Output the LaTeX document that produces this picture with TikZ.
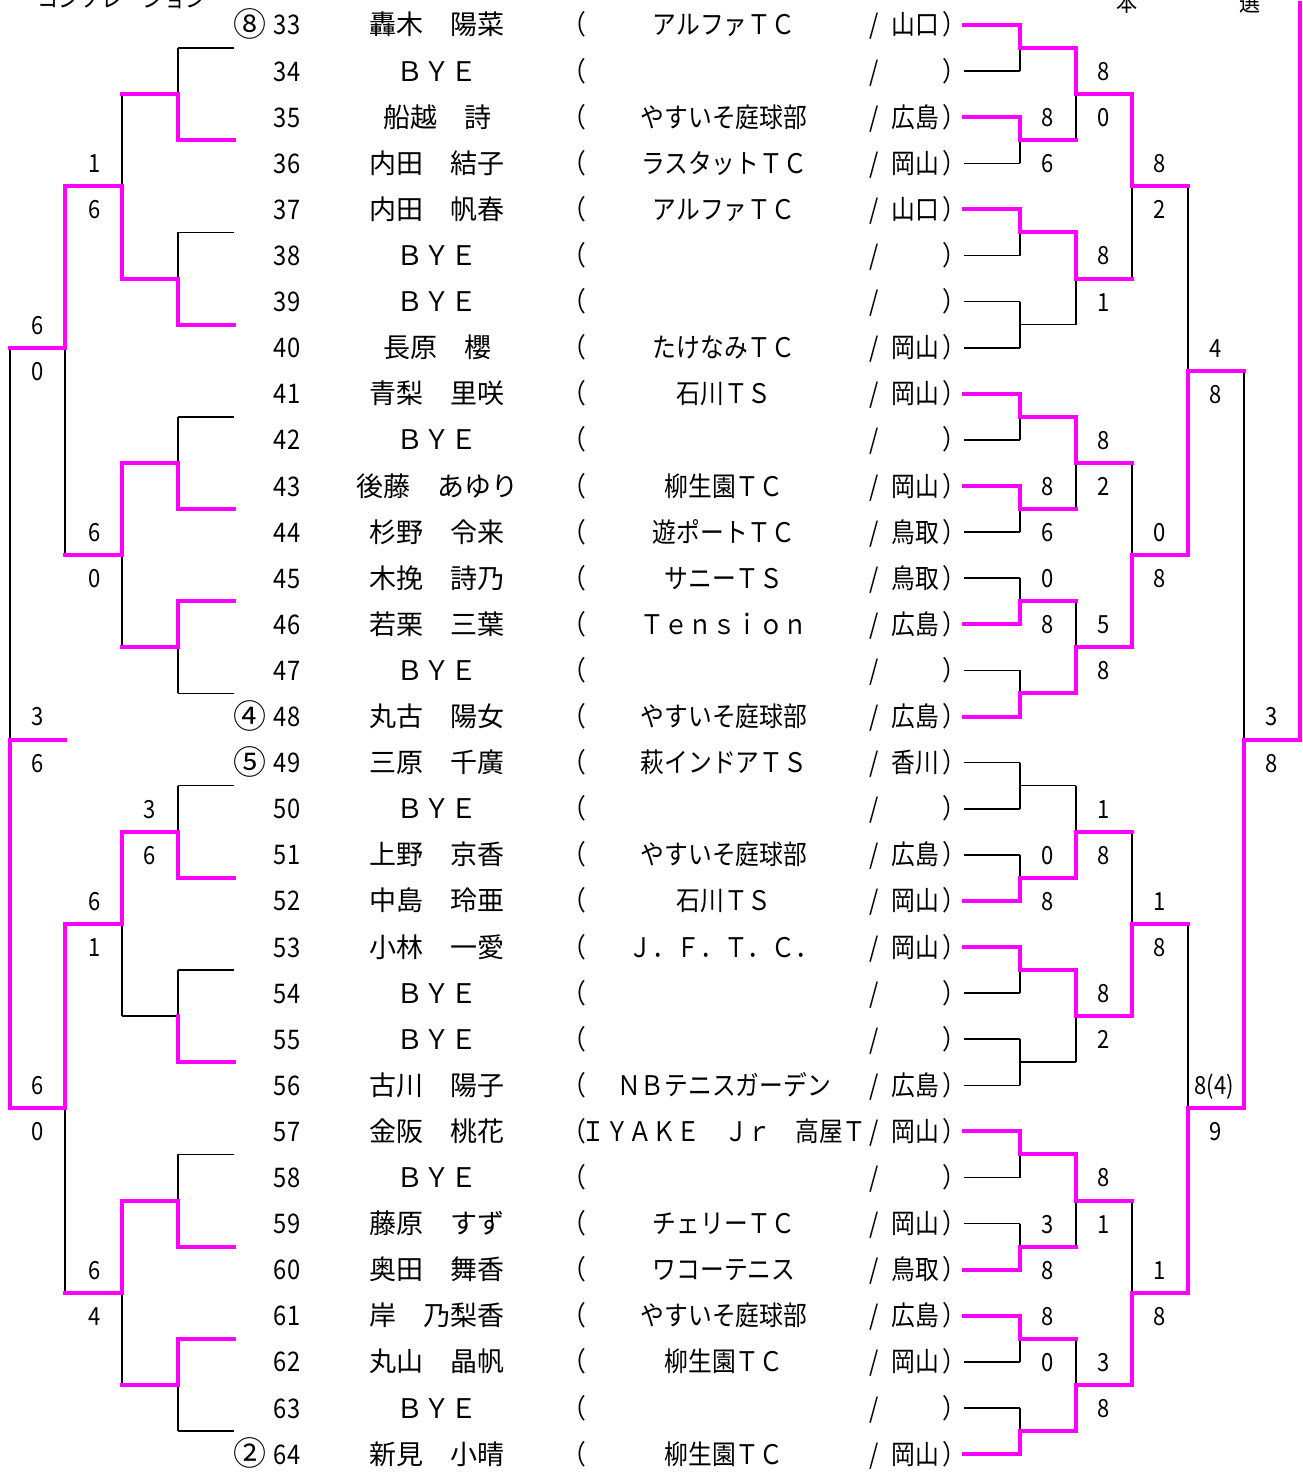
\documentclass[tikz,border=0pt]{standalone}
\usepackage{fontspec}
\newfontfamily\jp[FakeStretch=0.88]{Noto Sans CJK JP}
\newfontfamily\jpw{Noto Sans CJK JP}
\definecolor{mag}{RGB}{255,0,255}
\pgfdeclarelayer{fg}
\pgfsetlayers{main,fg}
\newcommand\bmatch[6]{% xv, xout, ytop, ybot, ymid, winner
  \ifcase#6
    \draw[bk] (#1,#3) -- (#1,#4); \draw[bk] (#1,#5) -- (#2,#5);
  \or
    \draw[bk] (#1,#5) -- (#1,#4);
    \begin{pgfonlayer}{fg}\draw[mg] (#1,#3) -- (#1,#5) -- (#2,#5);\end{pgfonlayer}
  \or
    \draw[bk] (#1,#3) -- (#1,#5);
    \begin{pgfonlayer}{fg}\draw[mg] (#1,#4) -- (#1,#5) -- (#2,#5);\end{pgfonlayer}
  \or
    \draw[bk] (#1,#3) -- (#1,#5) -- (#2,#5);
    \begin{pgfonlayer}{fg}\draw[mg] (#1,#4) -- (#1,#5);\end{pgfonlayer}
  \fi}
\begin{document}
\begin{tikzpicture}[x=1pt,y=-1pt,
  bk/.style={black,line width=1.6pt},
  mg/.style={mag,line width=4pt,line join=miter,line cap=rect},
  t/.style={inner sep=0pt,anchor=base,font=\jp\fontsize{27}{30}\selectfont},
  nm/.style={inner sep=0pt,anchor=base,font=\jpw\fontsize{27}{30}\selectfont},
  sd/.style={inner sep=0pt,anchor=base,font=\jpw\fontsize{33}{36}\selectfont},
  sc/.style={inner sep=0pt,anchor=base,font=\jp\fontsize{25}{28}\selectfont},
  ttl/.style={inner sep=0pt,anchor=base,font=\jp\fontsize{24}{26}\selectfont}]
\useasboundingbox (0,0) rectangle (1303,1472);
\clip (0,0) rectangle (1303,1472);
\fill[white] (0,0) rectangle (1303,1472);

% titles (cut off at the top edge, as in the original)
\node[ttl] (title) at (122,8) {コンソレーション};
\node[ttl] (hon) at (1127,12) {本};
\node[ttl] (sen) at (1250,12) {選};

% entries
\foreach \n/\nm/\cl/\pf in {
33/轟木　陽菜/アルファＴＣ/山口,
34/ＢＹＥ//,
35/船越　詩/やすいそ庭球部/広島,
36/内田　結子/ラスタットＴＣ/岡山,
37/内田　帆春/アルファＴＣ/山口,
38/ＢＹＥ//,
39/ＢＹＥ//,
40/長原　櫻/たけなみＴＣ/岡山,
41/青梨　里咲/石川ＴＳ/岡山,
42/ＢＹＥ//,
43/後藤　あゆり/柳生園ＴＣ/岡山,
44/杉野　令来/遊ポートＴＣ/鳥取,
45/木挽　詩乃/サニーＴＳ/鳥取,
46/若栗　三葉/Ｔｅｎｓｉｏｎ/広島,
47/ＢＹＥ//,
48/丸古　陽女/やすいそ庭球部/広島,
49/三原　千廣/萩インドアＴＳ/香川,
50/ＢＹＥ//,
51/上野　京香/やすいそ庭球部/広島,
52/中島　玲亜/石川ＴＳ/岡山,
53/小林　一愛/Ｊ．Ｆ．Ｔ．Ｃ．/岡山,
54/ＢＹＥ//,
55/ＢＹＥ//,
56/古川　陽子/ＮＢテニスガーデン/広島,
57/金阪　桃花/ＩＹＡＫＥ　Ｊｒ　高屋Ｔ/岡山,
58/ＢＹＥ//,
59/藤原　すず/チェリーＴＣ/岡山,
60/奥田　舞香/ワコーテニス/鳥取,
61/岸　乃梨香/やすいそ庭球部/広島,
62/丸山　晶帆/柳生園ＴＣ/岡山,
63/ＢＹＥ//,
64/新見　小晴/柳生園ＴＣ/岡山}{
  \pgfmathsetmacro\yb{35+46.1*(\n-33)}
  \node[t] (num\n) at (287,\yb) {\n};
  \node[nm] (nm\n) at (437,\yb) {\nm};
  \node[t] (lp\n) at (574,\yb) {（};
  \node[t] (cl\n) at (724,\yb) {\cl};
  \node[t] (sl\n) at (874,\yb) {/};
  \node[t] (pf\n) at (915,\yb) {\pf};
  \node[t] (rp\n) at (954,\yb) {）};
}
% seeds
\node[sd] (seed8) at (250,36.5) {⑧};
\node[sd] (seed4) at (250,728) {④};
\node[sd] (seed5) at (250,774.1) {⑤};
\node[sd] (seed2) at (250,1465.6) {②};

% ---------- right bracket (main draw) ----------
\foreach \y in {71.1,163.3,255.5,301.6,347.7,439.9,532.1,578.2,670.4,762.6,808.7,854.8,993.1,1039.2,1085.3,1177.5,1223.6,1361.9,1408}
  \draw[bk] (964,\y) -- (1020,\y);
\begin{pgfonlayer}{fg}
\foreach \y in {25,117.2,209.4,393.8,486,624.3,716.5,900.9,947,1131.4,1269.7,1315.8,1454.1}
  \draw[mg] (964,\y) -- (1020,\y);
\end{pgfonlayer}
% round 1
\foreach \a/\b/\m/\w in {25/71.1/48.05/1,117.2/163.3/140.25/1,209.4/255.5/232.45/1,301.6/347.7/324.65/0,
  393.8/439.9/416.85/1,486/532.1/509.05/1,578.2/624.3/601.25/2,670.4/716.5/693.45/2,
  762.6/808.7/785.65/0,854.8/900.9/877.85/2,947/993.1/970.05/1,1039.2/1085.3/1062.25/0,
  1131.4/1177.5/1154.45/1,1223.6/1269.7/1246.65/2,1315.8/1361.9/1338.85/1,1408/1454.1/1431.05/2}
  {\bmatch{1020}{1076}{\a}{\b}{\m}{\w}}
% round 2
\foreach \a/\b/\m/\w in {48.05/140.25/94.15/1,232.45/324.65/278.55/1,416.85/509.05/462.95/1,601.25/693.45/647.35/2,
  785.65/877.85/831.75/2,970.05/1062.25/1016.15/1,1154.45/1246.65/1200.55/1,1338.85/1431.05/1384.95/2}
  {\bmatch{1076}{1132}{\a}{\b}{\m}{\w}}
% round 3
\foreach \a/\b/\m/\w in {94.15/278.55/186.35/1,462.95/647.35/555.15/2,831.75/1016.15/923.95/2,1200.55/1384.95/1292.75/2}
  {\bmatch{1132}{1188}{\a}{\b}{\m}{\w}}
% round 4
\foreach \a/\b/\m/\w in {186.35/555.15/370.75/2,923.95/1292.75/1108.35/2}
  {\bmatch{1188}{1244}{\a}{\b}{\m}{\w}}
% round 5
\bmatch{1244}{1300}{370.75}{1108.35}{739.55}{2}
\begin{pgfonlayer}{fg}
\coordinate (top) at (1300,3);
\draw[mg] (1300,739.55) -- (top);
\end{pgfonlayer}

% ---------- left bracket (consolation) ----------
\foreach \y in {48.05,232.45,416.85,693.45,785.65,970.05,1154.45,1431.05}
  \draw[bk] (234,\y) -- (178,\y);
\begin{pgfonlayer}{fg}
\foreach \y in {140.25,324.65,509.05,601.25,877.85,1062.25,1246.65,1338.85}
  \draw[mg] (234,\y) -- (178,\y);
\end{pgfonlayer}
\foreach \a/\b/\m/\w in {48.05/140.25/94.15/2,232.45/324.65/278.55/2,416.85/509.05/462.95/2,601.25/693.45/647.35/1,
  785.65/877.85/831.75/2,970.05/1062.25/1016.15/3,1154.45/1246.65/1200.55/2,1338.85/1431.05/1384.95/1}
  {\bmatch{178}{122}{\a}{\b}{\m}{\w}}
\foreach \a/\b/\m/\w in {94.15/278.55/186.35/2,462.95/647.35/555.15/1,831.75/1016.15/923.95/1,1200.55/1384.95/1292.75/1}
  {\bmatch{122}{65}{\a}{\b}{\m}{\w}}
\bmatch{65}{10}{186.35}{555.15}{347.7}{1}
\bmatch{65}{10}{923.95}{1292.75}{1108.35}{1}
\bmatch{10}{65}{347.7}{1108.35}{739.55}{2}

% ---------- scores ----------
\foreach \x/\y/\s [count=\i] in {
  95/163/1,95/209/6,38/325/6,38/371/0,95/532/6,95/578/0,38/716/3,38/763/6,
  150/809/3,150/855/6,95/901/6,95/947/1,38/1085/6,38/1131/0,95/1270/6,95/1316/4,
  1104/71/8,1104/117/0,1048/117/8,1048/163/6,1160/163/8,1160/209/2,1104/255/8,1104/302/1,
  1216/348/4,1216/394/8,1104/440/8,1104/486/2,1048/486/8,1048/532/6,1160/532/0,1160/578/8,
  1048/578/0,1048/624/8,1104/624/5,1104/670/8,1272/716/3,1272/763/8,1104/809/1,1104/855/8,
  1048/855/0,1048/901/8,1160/901/1,1160/947/8,1104/993/8,1104/1039/2,1214/1085/8(4),1216/1131/9,
  1104/1177/8,1104/1224/1,1048/1224/3,1048/1270/8,1160/1270/1,1160/1316/8,1048/1316/8,1048/1362/0,
  1104/1362/3,1104/1408/8}
  \node[sc] (sc\i) at (\x,\y+9.2) {\s};
\end{tikzpicture}
\end{document}
